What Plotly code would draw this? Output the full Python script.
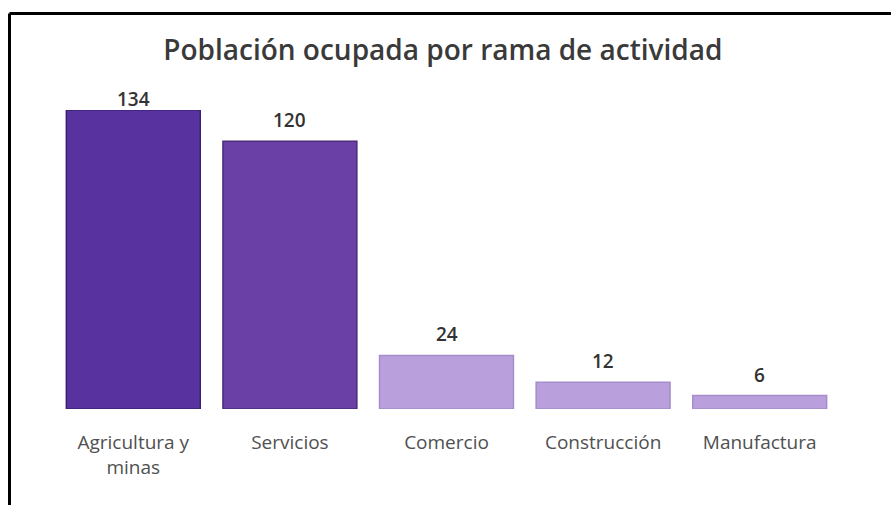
import plotly.graph_objects as go

categories = ["Agricultura y<br>minas", "Servicios", "Comercio", "Construcción", "Manufactura"]
values = [134, 120, 24, 12, 6]
bar_colors = ["#5833A0", "#6A40A6", "#B9A0DC", "#B9A0DC", "#B9A0DC"]
line_colors = ["#3B2270", "#4A2C7A", "#A58CCB", "#A58CCB", "#A58CCB"]
title_text = "Población ocupada por rama de actividad"

W, H = 891, 505
ML, MR, MT, MB = 55, 53, 110, 96
pw, ph = W - ML - MR, H - MT - MB

def px_x(x):
    return (x - ML) / pw

def px_y(y):
    return (H - MB - y) / ph

fig = go.Figure()
fig.add_trace(go.Bar(
    x=categories, y=values,
    marker=dict(color=bar_colors, line=dict(color=line_colors, width=1.5)),
    hoverinfo="x+y",
))

vmax = max(values)
for c, v in zip(categories, values):
    fig.add_annotation(
        x=c, y=v, text=str(v), showarrow=False, yanchor="bottom",
        yshift=(-4 if v == vmax else 6),
        font=dict(family="Open Sans", size=19, color="#333333", weight=600),
    )

fig.update_layout(
    width=W, height=H,
    margin=dict(l=ML, r=MR, t=MT, b=MB),
    paper_bgcolor="white", plot_bgcolor="white",
    bargap=0.145,
    showlegend=False,
    title=dict(
        text=title_text, x=0.497, xanchor="center", y=1 - 50 / H, yanchor="middle",
        font=dict(family="Open Sans", size=28, color="#3a3a3a", weight=600),
    ),
    xaxis=dict(
        showgrid=False, zeroline=False, showline=False,
        ticks="outside", ticklen=16, tickcolor="rgba(0,0,0,0)",
        tickfont=dict(family="Open Sans", size=19, color="#505050"),
    ),
    yaxis=dict(
        range=[0, 134], visible=False, showgrid=False, zeroline=False,
    ),
    shapes=[
        dict(type="line", xref="paper", yref="paper",
             x0=px_x(9.5), x1=px_x(W + 5), y0=px_y(13.5), y1=px_y(13.5),
             line=dict(color="black", width=3)),
        dict(type="line", xref="paper", yref="paper",
             x0=px_x(9.5), x1=px_x(9.5), y0=px_y(13.5), y1=px_y(H + 5),
             line=dict(color="black", width=3)),
    ],
)

fig.write_html("out.html", config={"displayModeBar": False},
               post_script="document.body.style.margin='0';")
